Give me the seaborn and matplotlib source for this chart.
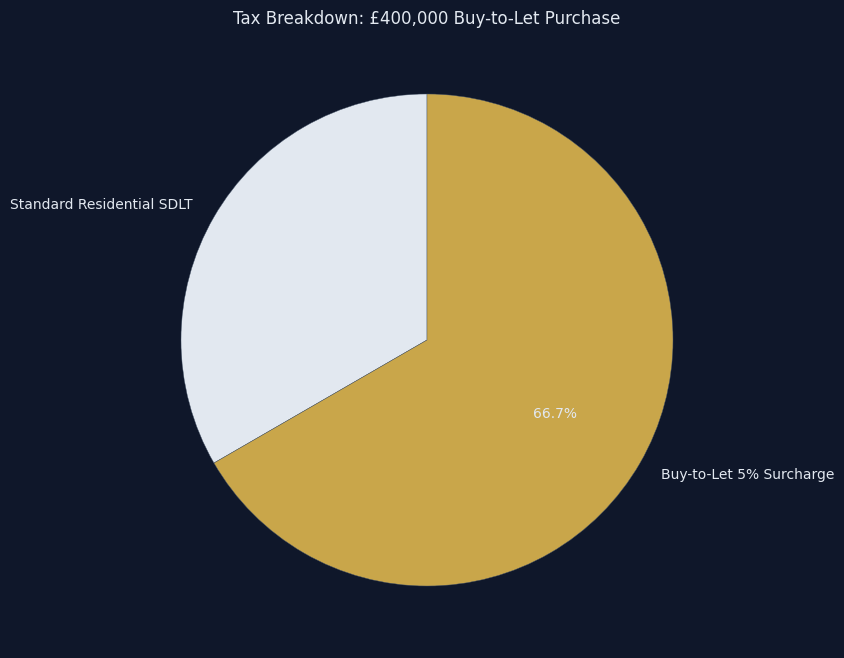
import matplotlib
matplotlib.use("Agg")
import matplotlib.pyplot as plt
import seaborn as sns

labels = ["Standard Residential SDLT", "Buy-to-Let 5% Surcharge"]
values = [10000, 20000]
colors = ["#e2e8f0", "#c9a64a"]

BG = "#0f172a"
TXT = "#e2e8f0"

sns.set_theme(style="dark")
plt.rcParams['font.family'] = ['DejaVu Sans']

fig = plt.figure(figsize=(8.45, 6.58), dpi=100, facecolor=BG)
ax = fig.add_axes([119.5 / 845, 10.5 / 658, 615 / 845, 615 / 658])
ax.set_facecolor(BG)

wedges, texts, autotexts = ax.pie(
    values, labels=labels, colors=colors, startangle=90,
    autopct="%1.1f%%", labeldistance=1.1, pctdistance=0.6,
    wedgeprops=dict(edgecolor="#475569", linewidth=0.3),
    textprops=dict(color=TXT, fontsize=10),
)
for t in autotexts:
    t.set_color(TXT)
ax.set_xlim(-1.25, 1.25)
ax.set_ylim(-1.25, 1.25)
ax.set_aspect("equal")
ax.set_title("Tax Breakdown: £400,000 Buy-to-Let Purchase", color=TXT, fontsize=12, pad=6)

fig.savefig("out.png", dpi=100, facecolor=BG)
